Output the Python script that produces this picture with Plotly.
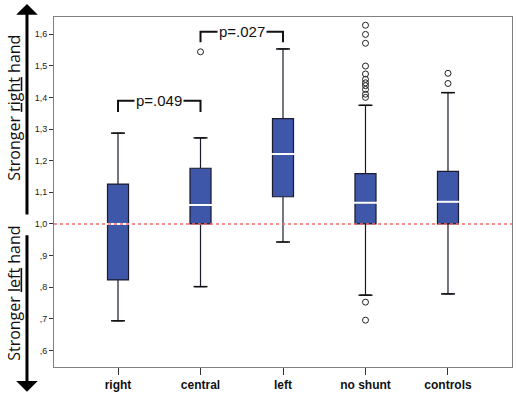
import plotly.graph_objects as go

categories = ["right", "central", "left", "no shunt", "controls"]
q1 = [0.823, 1.000, 1.086, 1.000, 1.000]
median = [1.000, 1.060, 1.221, 1.067, 1.070]
q3 = [1.126, 1.176, 1.333, 1.159, 1.166]
lower_whisker = [0.694, 0.802, 0.943, 0.775, 0.779]
upper_whisker = [1.287, 1.272, 1.553, 1.375, 1.415]

outlier_cats = ["central",
                "no shunt", "no shunt", "no shunt", "no shunt", "no shunt", "no shunt",
                "no shunt", "no shunt", "no shunt", "no shunt", "no shunt", "no shunt", "no shunt",
                "controls", "controls"]
outlier_vals = [1.544,
                1.628, 1.599, 1.571, 1.499, 1.474, 1.457, 1.446, 1.437, 1.425, 1.410, 1.400,
                0.753, 0.696,
                1.476, 1.444]

ytick_vals = [0.6, 0.7, 0.8, 0.9, 1.0, 1.1, 1.2, 1.3, 1.4, 1.5, 1.6]
ytick_text = [",6", ",7", ",8", ",9", "1,0", "1,1", "1,2", "1,3", "1,4", "1,5", "1,6"]

# significance brackets: (from, to, top, leg bottom, label)
brackets = [("right", "central", 1.389, 1.354, "p=.049"),
            ("central", "left", 1.607, 1.574, "p=.027")]

reference_value = 1.0

fig = go.Figure()

fig.add_trace(go.Box(
    x=categories, q1=q1, median=median, q3=q3,
    lowerfence=lower_whisker, upperfence=upper_whisker,
    width=0.255, fillcolor="#3F57A8",
    line=dict(color="#1b1b2e", width=1.2),
    boxpoints=False, showlegend=False, hoverinfo="skip",
))

# whisker caps
fig.add_trace(go.Scatter(
    x=categories + categories, y=lower_whisker + upper_whisker, mode="markers",
    marker=dict(symbol="line-ew", size=10, line=dict(color="#111", width=1.5)),
    showlegend=False, hoverinfo="skip",
))
# white medians
fig.add_trace(go.Scatter(
    x=categories, y=median, mode="markers",
    marker=dict(symbol="line-ew", size=19, line=dict(color="white", width=2)),
    showlegend=False, hoverinfo="skip",
))
# outliers
fig.add_trace(go.Scatter(
    x=outlier_cats, y=outlier_vals, mode="markers",
    marker=dict(symbol="circle-open", size=6, color="#222", line=dict(color="#222", width=1)),
    showlegend=False, hoverinfo="skip",
))

fig.add_shape(type="line", xref="paper", x0=0, x1=1, yref="y", y0=reference_value, y1=reference_value,
              line=dict(color="#EE6A6A", width=1.5, dash="dot"), layer="above")

for a, b, top, leg, label in brackets:
    ia, ib = categories.index(a), categories.index(b)
    fig.add_shape(type="path", xref="x", yref="y",
                  path=f"M {ia},{leg} L {ia},{top} L {ib},{top} L {ib},{leg}",
                  line=dict(color="#111", width=2))
    fig.add_annotation(x=(ia + ib) / 2, y=top, xref="x", yref="y", text=label,
                       showarrow=False, bgcolor="white", borderpad=1,
                       font=dict(family="Liberation Sans, Arial", size=15, color="#111"))

# side arrows and labels
fig.add_annotation(xref="paper", yref="paper", x=-0.059, y=1.037, ax=0, ay=212,
                   axref="pixel", ayref="pixel", text="", showarrow=True,
                   arrowhead=1, arrowsize=1.2, arrowwidth=3, arrowcolor="#000", standoff=0)
fig.add_annotation(xref="paper", yref="paper", x=-0.059, y=-0.071, ax=0, ay=-158,
                   axref="pixel", ayref="pixel", text="", showarrow=True,
                   arrowhead=1, arrowsize=1.2, arrowwidth=3, arrowcolor="#000", standoff=0)
fig.add_annotation(xref="paper", yref="paper", x=-0.088, y=0.74, text="Stronger <u>right</u> hand",
                   textangle=-90, showarrow=False, xanchor="center", yanchor="middle",
                   font=dict(family="Open Sans", size=16, color="#111"))
fig.add_annotation(xref="paper", yref="paper", x=-0.088, y=0.211, text="Stronger <u>left</u> hand",
                   textangle=-90, showarrow=False, xanchor="center", yanchor="middle",
                   font=dict(family="Open Sans", size=16, color="#111"))

fig.update_layout(
    width=517, height=396,
    margin=dict(l=54, r=5, t=17, b=29),
    paper_bgcolor="white", plot_bgcolor="white",
    font=dict(family="Liberation Sans, Arial", color="#222"),
    xaxis=dict(type="category", range=[-0.776, 4.776], showgrid=False, zeroline=False,
               showline=True, mirror=True, linecolor="#808080", linewidth=1,
               ticks="outside", ticklen=7, tickcolor="#333",
               tickvals=categories, ticktext=[f"<b>{c}</b>" for c in categories],
               tickfont=dict(size=12, color="#111")),
    yaxis=dict(range=[0.548, 1.654], showgrid=False, zeroline=False,
               showline=True, mirror=True, linecolor="#808080", linewidth=1,
               ticks="outside", ticklen=4, tickcolor="#333",
               tickvals=ytick_vals, ticktext=ytick_text,
               tickfont=dict(size=9, color="#222")),
)

fig.write_html("out.html", config={"displayModeBar": False, "staticPlot": True},
               post_script="document.body.style.margin='0';document.body.style.overflow='hidden';")
